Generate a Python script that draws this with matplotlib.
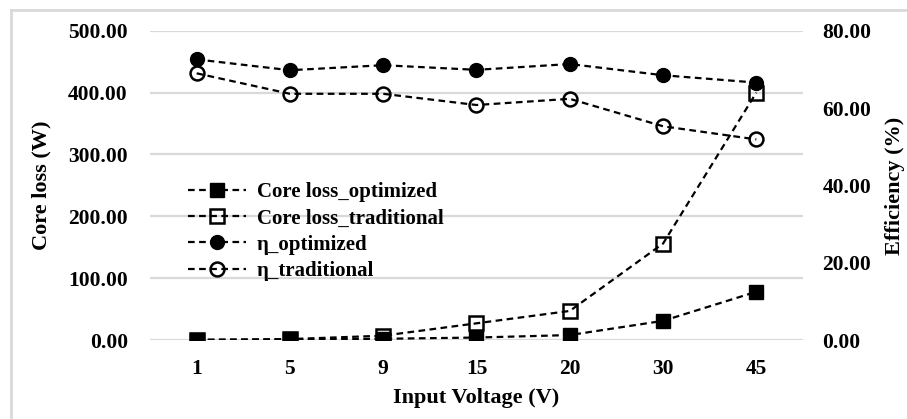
import matplotlib.pyplot as plt
from matplotlib.lines import Line2D

# Data

voltages = ["1", "5", "9", "15", "20", "30", "45"]

core_loss_optimized = [0.5, 1.0, 2.0, 4.0, 8.0, 31.0, 78.0]
core_loss_traditional = [0.0, 1.5, 7.0, 27.0, 47.0, 156.0, 400.0]

eff_optimized = [72.6, 69.8, 71.1, 69.9, 71.4, 68.5, 66.6]
eff_traditional = [69.0, 63.7, 63.7, 60.8, 62.4, 55.3, 51.9]

left_ticks = [0, 100, 200, 300, 400, 500]
right_ticks = [0, 20, 40, 60, 80]


plt.rcParams["font.family"] = ["Liberation Serif", "DejaVu Serif"]
plt.rcParams["font.weight"] = "bold"
plt.rcParams["axes.labelweight"] = "bold"

fig = plt.figure(figsize=(9.07, 4.19), dpi=100)

ax = fig.add_axes([0.1654, 0.1885, 0.7199, 0.738])
ax2 = ax.twinx()

x = list(range(len(voltages)))

style = dict(color="black", linestyle=(0, (3, 2)), linewidth=1.6)

ax.plot(x, core_loss_optimized, marker="s", markersize=10,
        markerfacecolor="black", label="Core loss_optimized", **style)
ax.plot(x, core_loss_traditional, marker="s", markersize=10,
        markerfacecolor="none", markeredgewidth=1.8,
        label="Core loss_traditional", **style)

ax2.plot(x, eff_optimized, marker="o", markersize=10,
         markerfacecolor="black", label="η_optimized", **style)
ax2.plot(x, eff_traditional, marker="o", markersize=10,
         markerfacecolor="none", markeredgewidth=1.8,
         label="η_traditional", **style)

ax.set_xlim(-0.5, len(voltages) - 0.5)
ax.set_ylim(0, 500)
ax2.set_ylim(0, 80)

ax.set_xticks(x)
ax.set_xticklabels(voltages)
ax.set_yticks(left_ticks)
ax.set_yticklabels([f"{v:.2f}" for v in left_ticks])
ax2.set_yticks(right_ticks)
ax2.set_yticklabels([f"{v:.2f}" for v in right_ticks])

ax.yaxis.grid(True, color="#d9d9d9", linewidth=1.6)
ax.set_axisbelow(True)

for a in (ax, ax2):
    for s in a.spines.values():
        s.set_visible(False)
    a.tick_params(length=0, labelsize=15.5)

ax.tick_params(axis="y", pad=16)
ax.tick_params(axis="x", pad=14)
ax2.tick_params(axis="y", pad=14)

ax.set_xlabel("Input Voltage (V)", fontsize=16, labelpad=6)
ax.set_ylabel("Core loss (W)", fontsize=16, labelpad=12)
ax2.set_ylabel("Efficiency (%)", fontsize=16, labelpad=10)

h1, l1 = ax.get_legend_handles_labels()
h2, l2 = ax2.get_legend_handles_labels()
leg = ax2.legend(h1 + h2, l1 + l2, loc="upper left",
                 bbox_to_anchor=(0.198, 0.585), bbox_transform=fig.transFigure,
                 frameon=False, fontsize=15, handlelength=2.8,
                 handletextpad=0.5, labelspacing=0.3, borderaxespad=0)

# light frame round the chart (left and top edges only visible)

fig.add_artist(Line2D([0.0121, 0.0121], [0, 0.976], transform=fig.transFigure,
                      color="#d9d9d9", linewidth=2))
fig.add_artist(Line2D([0.0121, 1], [0.976, 0.976], transform=fig.transFigure,
                      color="#d9d9d9", linewidth=2))

fig.savefig("out.png", dpi=100)
